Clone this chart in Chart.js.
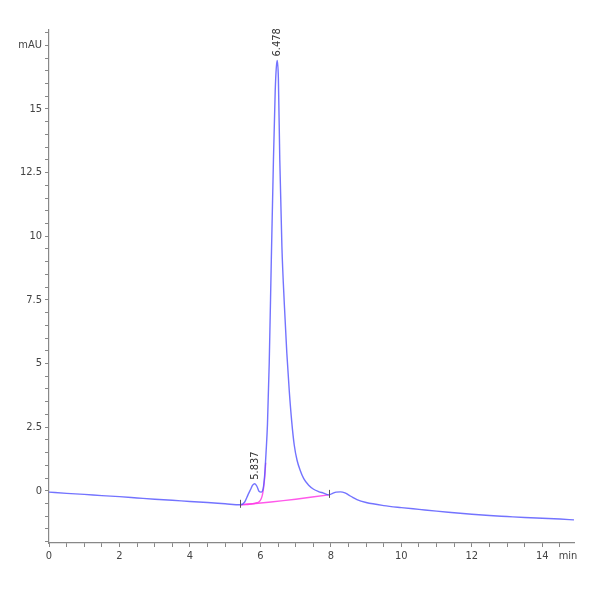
<!DOCTYPE html>
<html>
<head>
<meta charset="utf-8">
<script src="https://cdn.jsdelivr.net/npm/chart.js@4"></script>
<style>
    html, body { margin: 0; padding: 0; background: #fff; }
    #wrap { width: 600px; height: 600px; }
</style>
</head>
<body>
<div id="wrap"><canvas id="chromChart"></canvas></div>
<script>
// retention time (min) and detector signal (mAU)
const times = [0, 0.5, 1, 1.5, 2, 2.5, 3, 3.5, 4, 4.5, 5, 5.43, 5.55, 5.65, 5.72, 5.78, 5.84, 5.9, 5.96, 6.02,
    6.08, 6.12, 6.16, 6.2, 6.25, 6.31, 6.37, 6.42, 6.45, 6.478, 6.51, 6.55, 6.61, 6.68, 6.75, 6.82,
    6.89, 6.96, 7.04, 7.13, 7.23, 7.37, 7.51, 7.65, 7.79, 7.94, 8.05, 8.15, 8.27, 8.4, 8.5, 8.62, 8.74, 9.0,
    9.5, 10, 10.5, 11, 11.5, 12, 12.5, 13, 13.5, 14, 14.5, 14.9];
const signal = [-0.05, -0.1, -0.14, -0.19, -0.23, -0.28, -0.33, -0.37, -0.42, -0.46, -0.51, -0.55, -0.45, -0.15, 0.05, 0.22, 0.28, 0.18, -0.02, -0.05,
    0.1, 0.6, 1.5, 2.6, 5.0, 9.1, 13.0, 15.7, 16.6, 16.9, 16.2, 13.0, 9.6, 7.3, 5.4, 3.9,
    2.7, 1.8, 1.2, 0.8, 0.48, 0.22, 0.06, -0.03, -0.09, -0.16, -0.1, -0.05, -0.04, -0.08, -0.16, -0.26, -0.35, -0.46,
    -0.58, -0.66, -0.73, -0.8, -0.86, -0.92, -0.97, -1.01, -1.05, -1.08, -1.11, -1.14];

// integration baseline (magenta)
const skimTimes = [5.43, 5.9, 6.05, 6.12, 6.15];
const skimValues = [-0.55, -0.47, -0.2, 0.5, 1.1];
const mainBaseTimes = [5.43, 6.3, 7.0, 7.94];
const mainBaseValues = [-0.55, -0.44, -0.33, -0.16];

// peak annotations
const peakTimes = [5.837, 6.478];
const peakHeights = [0.28, 16.9];
const peakLabels = ['5.837', '6.478'];

const FONT = '"Liberation Sans Narrow", "DejaVu Sans Condensed", "Liberation Sans", sans-serif';

const toXY = (xs, ys) => xs.map((x, i) => ({ x: x, y: ys[i] }));

// draws retention-time labels, start/end markers and the "min" unit
const annotations = {
    id: 'annotations',
    afterDatasetsDraw(chart) {
        const { ctx, scales: { x, y } } = chart;
        ctx.save();
        ctx.fillStyle = '#333';
        ctx.font = '11px ' + FONT;
        ctx.textAlign = 'left';
        ctx.textBaseline = 'middle';
        peakTimes.forEach((t, i) => {
            const px = x.getPixelForValue(t);
            const py = y.getPixelForValue(peakHeights[i]) - 4;
            ctx.save();
            ctx.translate(px, py);
            ctx.rotate(-Math.PI / 2);
            ctx.fillText(peakLabels[i], 0, 0);
            ctx.restore();
        });

        // integration start / end marks
        ctx.strokeStyle = '#555';
        ctx.lineWidth = 1;
        [[mainBaseTimes[0], mainBaseValues[0]], [mainBaseTimes[3], mainBaseValues[3]]].forEach(([t, v]) => {
            const px = Math.round(x.getPixelForValue(t)) + 0.5;
            const py = y.getPixelForValue(v);
            ctx.beginPath();
            ctx.moveTo(px, py - 5);
            ctx.lineTo(px, py + 3);
            ctx.stroke();
        });

        ctx.fillStyle = '#444';
        ctx.textAlign = 'center';
        ctx.textBaseline = 'top';
        ctx.fillText('min', x.right - 6, x.top + 8);
        ctx.restore();
    }
};

new Chart(document.getElementById('chromChart'), {
    type: 'line',
    data: {
        datasets: [{
            label: 'signal',
            data: toXY(times, signal),
            borderColor: 'rgba(90, 90, 255, 0.85)',
            borderWidth: 1.4,
            pointRadius: 0,
            cubicInterpolationMode: 'monotone',
            fill: false
        }, {
            label: 'baseline',
            data: toXY(mainBaseTimes, mainBaseValues),
            borderColor: 'rgba(255, 60, 230, 0.85)',
            borderWidth: 1.4,
            pointRadius: 0,
            tension: 0.2,
            fill: false
        }, {
            label: 'skim',
            data: toXY(skimTimes, skimValues),
            borderColor: 'rgba(255, 60, 230, 0.85)',
            borderWidth: 1.4,
            pointRadius: 0,
            cubicInterpolationMode: 'monotone',
            fill: false
        }]
    },
    options: {
        responsive: true,
        maintainAspectRatio: false,
        animation: false,
        layout: { padding: { top: 30, right: 26, left: 0, bottom: 0 } },
        plugins: {
            legend: { display: false },
            tooltip: { enabled: false }
        },
        scales: {
            x: {
                type: 'linear',
                min: 0,
                max: 14.9,
                border: { color: '#888', width: 1.2 },
                grid: { drawOnChartArea: false, drawTicks: true, tickLength: 4, color: '#888' },
                ticks: {
                    stepSize: 0.5,
                    autoSkip: false,
                    maxRotation: 0,
                    includeBounds: false,
                    color: '#444',
                    font: { family: FONT, size: 11 },
                    padding: 3,
                    callback: (v) => (Math.abs(v % 2) < 1e-6 ? String(v) : '')
                },
                afterFit: (scale) => { scale.height = 57; }
            },
            y: {
                min: -2.05,
                max: 18.1,
                border: { color: '#888', width: 1.2 },
                grid: { drawOnChartArea: false, drawTicks: true, tickLength: 4, color: '#888' },
                ticks: {
                    stepSize: 0.5,
                    autoSkip: false,
                    includeBounds: false,
                    color: '#444',
                    font: { family: FONT, size: 11 },
                    padding: 3,
                    callback: (v) => {
                        if (Math.abs(v - 17.5) < 1e-6) return 'mAU';
                        if (Math.abs(v % 2.5) < 1e-6) return String(v);
                        return '';
                    }
                },
                afterFit: (scale) => { scale.width = 49; }
            }
        }
    },
    plugins: [annotations]
});
</script>
</body>
</html>
